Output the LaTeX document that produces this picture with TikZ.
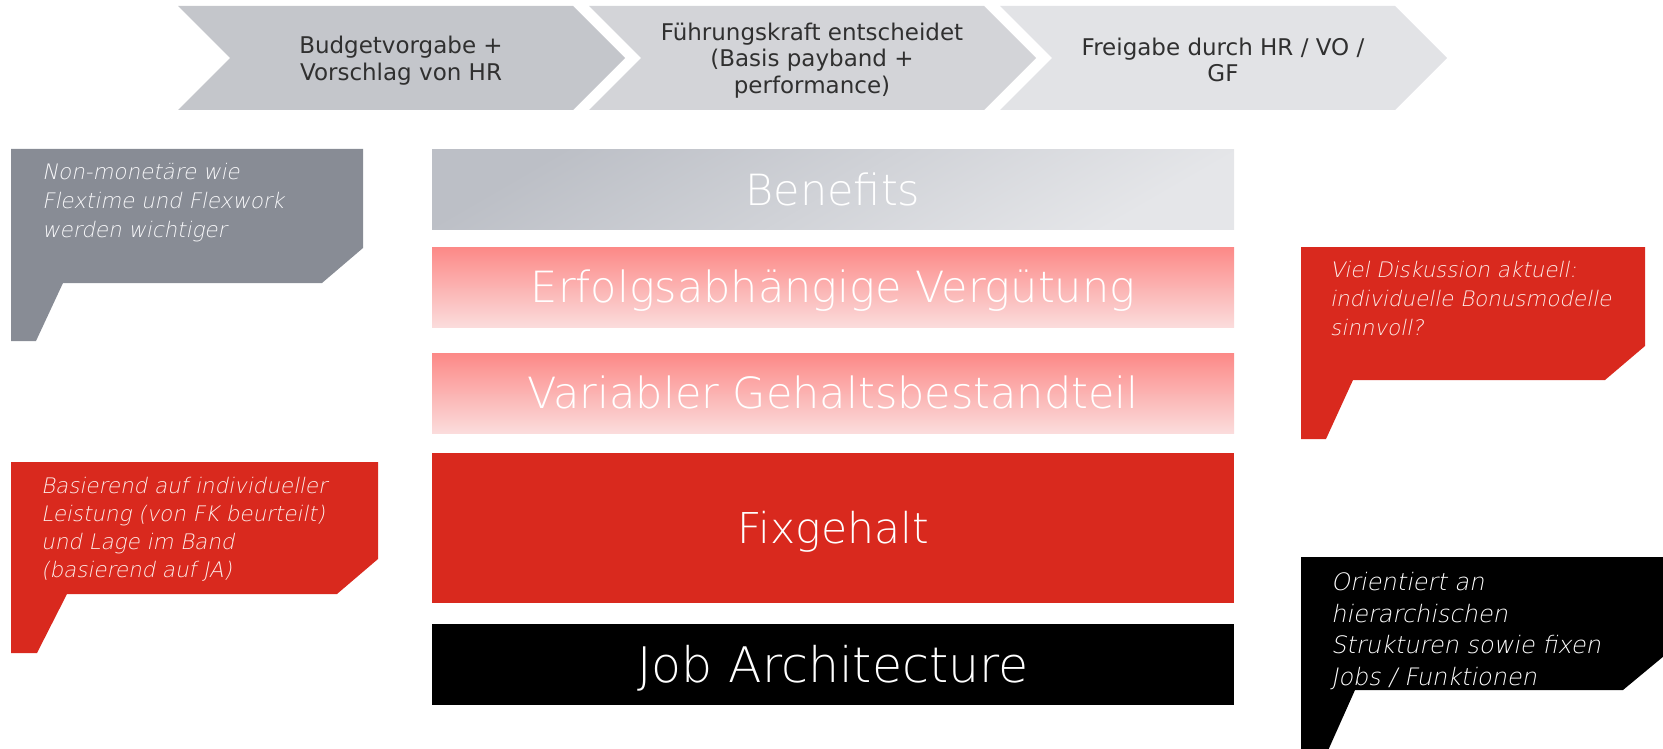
\documentclass[tikz,border=0pt]{standalone}
\usepackage{fontspec}
\IfFontExistsTF{DejaVu Sans ExtraLight}{%
  \newfontfamily\thinfont{DejaVu Sans ExtraLight}%
  \newfontfamily\thinslant{DejaVu Sans ExtraLight}[FakeSlant=0.2]%
}{%
  \newfontfamily\thinfont{DejaVu Sans}%
  \newfontfamily\thinslant{DejaVu Sans}[FakeSlant=0.2]%
}
\newfontfamily\bookfont{DejaVu Sans}
\definecolor{chevA}{RGB}{196,198,203}
\definecolor{chevB}{RGB}{211,212,216}
\definecolor{chevC}{RGB}{226,227,230}
\definecolor{txtdark}{RGB}{48,48,48}
\definecolor{graycall}{RGB}{136,140,149}
\definecolor{mainred}{RGB}{217,41,30}
\definecolor{benA}{RGB}{188,191,198}
\definecolor{benB}{RGB}{229,230,233}
\definecolor{pinkA}{RGB}{252,137,135}
\definecolor{pinkB}{RGB}{251,220,220}
\definecolor{calltxt}{RGB}{248,248,250}
\definecolor{redtxt}{RGB}{253,236,233}
\tikzset{
  chevtext/.style={align=center, text=txtdark, inner sep=0pt,
    font=\bookfont\fontsize{23}{26.5}\selectfont},
  calltext/.style={align=left, anchor=north west, inner sep=0pt},
  barbox/.style={inner sep=0pt, minimum width=802pt, text=white},
}
\begin{document}
\begin{tikzpicture}[x=1pt,y=-1pt]
\useasboundingbox (0,0) rectangle (1663,749);
\clip (0,0) rectangle (1663,749);
% process chevrons
\fill[chevA] (178,6) -- (573,6) -- (625,58) -- (573,110) -- (178,110) -- (230,58) -- cycle;
\fill[chevB] (589,6) -- (984,6) -- (1036,58) -- (984,110) -- (589,110) -- (641,58) -- cycle;
\fill[chevC] (1000,6) -- (1395,6) -- (1447,58) -- (1395,110) -- (1000,110) -- (1052,58) -- cycle;
\node[chevtext] (c1) at (401,60.5) {Budgetvorgabe +\\Vorschlag von HR};
\node[chevtext] (c2) at (812,60.5) {Führungskraft entscheidet\\(Basis payband +\\performance)};
\node[chevtext] (c3) at (1223,60) {Freigabe durch HR / VO /\\GF};
% callouts
\fill[graycall] (11,149) -- (363,149) -- (363,248) -- (322,283) -- (63,283) -- (36,341) -- (11,341) -- cycle;
\node[calltext, text=calltxt, font=\thinslant\fontsize{21.4}{29}\selectfont] (t1) at (42,163)
  {Non-monetäre wie\\Flextime und Flexwork\\werden wichtiger};
\fill[mainred] (11,462) -- (378,462) -- (378,559) -- (337,594) -- (67,594) -- (37,653) -- (11,653) -- cycle;
\node[calltext, text=redtxt, font=\thinslant\fontsize{21.4}{28}\selectfont] (t2) at (41,477)
  {Basierend auf individueller\\Leistung (von FK beurteilt)\\und Lage im Band\\(basierend auf JA)};
\fill[mainred] (1301,247) -- (1645,247) -- (1645,346) -- (1605,380) -- (1353,380) -- (1326,439) -- (1301,439) -- cycle;
\node[calltext, text=redtxt, font=\thinslant\fontsize{21.4}{29}\selectfont] (t3) at (1330,261)
  {Viel Diskussion aktuell:\\individuelle Bonusmodelle\\sinnvoll?};
\fill[black] (1301,557) -- (1670,557) -- (1670,651) -- (1623,690) -- (1355,690) -- (1326,755) -- (1301,755) -- cycle;
\node[calltext, text=white, font=\thinslant\fontsize{24}{31.7}\selectfont] (t4) at (1331,572)
  {Orientiert an\\hierarchischen\\Strukturen sowie fixen\\Jobs / Funktionen};
% stacked bars
\node[barbox, minimum height=79pt, top color=benA, bottom color=benB, shading angle=30,
  font=\thinfont\fontsize{43}{50}\selectfont, text height=31.3pt, text depth=0pt] (ben) at (833,189.5) {Benefits};
\node[barbox, minimum height=80pt, top color=pinkA, bottom color=pinkB,
  font=\thinfont\fontsize{43}{50}\selectfont, text height=31.3pt, text depth=0pt] (erf) at (833,287) {Erfolgsabhängige Vergütung};
\node[barbox, minimum height=80pt, top color=pinkA, bottom color=pinkB,
  font=\thinfont\fontsize{43}{50}\selectfont, text height=31.3pt, text depth=0pt] (var) at (833,393) {Variabler Gehaltsbestandteil};
\node[barbox, minimum height=150pt, fill=mainred,
  font=\thinfont\fontsize{42.5}{50}\selectfont, text height=31pt, text depth=0pt] (fix) at (833,527.5) {Fixgehalt};
\node[barbox, minimum height=81pt, fill=black,
  font=\thinfont\fontsize{49}{56}\selectfont, text height=35.7pt, text depth=0pt] (job) at (833,664.5) {Job Architecture};
\end{tikzpicture}
\end{document}
